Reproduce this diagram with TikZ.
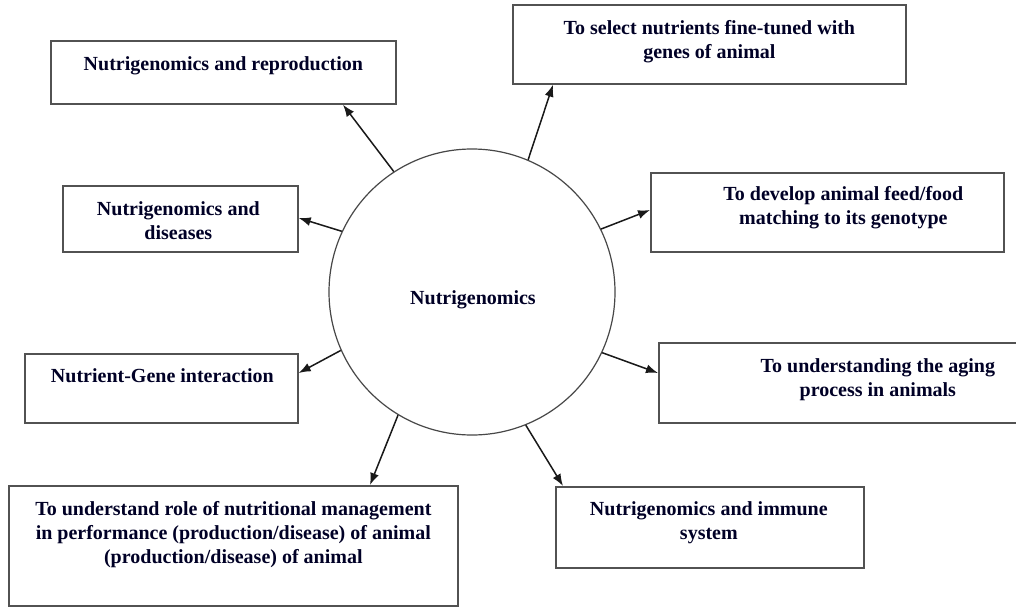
\documentclass[tikz,border=0pt]{standalone}
\usepackage{fontspec}
\setmainfont{Liberation Serif}
\usetikzlibrary{calc,arrows.meta}
\tikzset{
  box/.style={draw=black!68, line width=1.7pt, rectangle, inner sep=0pt, anchor=north west},
  hub/.style={draw=black!72, line width=1.2pt, circle, inner sep=0pt, minimum size=286pt},
  lbl/.style={inner sep=0pt, anchor=north, align=center, text=black!85!blue,
              font=\bfseries\fontsize{20}{24}\selectfont},
  link/.style={draw=black!90, line width=1.5pt, -{Latex[length=12pt,width=9pt]}}
}
\begin{document}
\begin{tikzpicture}[x=1pt,y=-1pt]
  \useasboundingbox (0,0) rectangle (1016,607);
  \clip (0,0) rectangle (1016,607);
  \fill[white] (0,0) rectangle (1016,607);

  % central concept
  \node[hub] (c) at (472,292) {};
  \node[lbl, anchor=center] (ct) at ($(c.center)+(1,8)$) {Nutrigenomics};

  % surrounding boxes
  \node[box, minimum width=345pt, minimum height=63pt] (A) at (50,40) {};
  \node[box, minimum width=393pt, minimum height=79pt] (B) at (512,4) {};
  \node[box, minimum width=235pt, minimum height=66pt] (C) at (62,185) {};
  \node[box, minimum width=353pt, minimum height=79pt] (D) at (650,172) {};
  \node[box, minimum width=273pt, minimum height=69pt] (E) at (24,353) {};
  \node[box, minimum width=372pt, minimum height=80pt] (F) at (658,342) {};
  \node[box, minimum width=449pt, minimum height=120pt] (G) at (8,485) {};
  \node[box, minimum width=308pt, minimum height=81pt] (H) at (555,486) {};

  % box texts
  \node[lbl] (At) at ($(A.north)+(0,16)$) {Nutrigenomics and reproduction};
  \node[lbl] (Bt) at ($(B.north)+(0,16)$) {To select nutrients fine-tuned with\\genes of animal};
  \node[lbl] (Ct) at ($(C.north)+(-2,16)$) {Nutrigenomics and\\diseases};
  \node[lbl] (Dt) at ($(D.north)+(16,14)$) {To develop animal feed/food\\matching to its genotype};
  \node[lbl] (Et) at ($(E.north)+(1,15)$) {Nutrient-Gene interaction};
  \node[lbl] (Ft) at ($(F.north)+(33,16)$) {To understanding the aging\\process in animals};
  \node[lbl] (Gt) at ($(G.north)+(0,16)$) {To understand role of nutritional management\\in performance (production/disease) of animal\\(production/disease) of animal};
  \node[lbl] (Ht) at ($(H.north)+(-1,15)$) {Nutrigenomics and immune\\system};

  % connectors from the hub to each box
  \draw[link] (c.123.6) -- ($(A.south west)+(293,0)$);
  \draw[link] (c.67.4)  -- ($(B.south west)+(41,0)$);
  \draw[link] (c.155.6) -- ($(C.north east)+(0,33)$);
  \draw[link] (c.26.6)  -- ($(D.north west)+(0,38)$);
  \draw[link] (c.204.8) -- ($(E.north east)+(0,20)$);
  \draw[link] (c.335.2) -- ($(F.north west)+(0,31)$);
  \draw[link] (c.239)   -- ($(G.north west)+(362,0)$);
  \draw[link] (c.292.8) -- ($(H.north west)+(8,0)$);
\end{tikzpicture}
\end{document}
